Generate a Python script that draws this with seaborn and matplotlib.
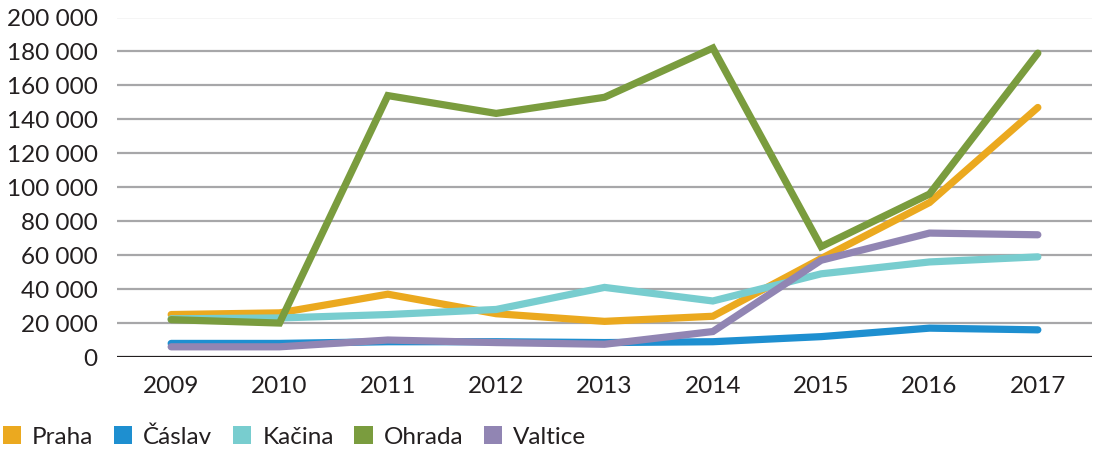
import matplotlib
matplotlib.use("Agg")
import matplotlib.pyplot as plt
import seaborn as sns
import pandas as pd
from matplotlib.patches import Patch

years = [2009, 2010, 2011, 2012, 2013, 2014, 2015, 2016, 2017]
series_names = ["Praha", "Čáslav", "Kačina", "Ohrada", "Valtice"]
praha = [25000, 26000, 37000, 25500, 21000, 24000, 58000, 91000, 147000]
caslav = [8000, 8000, 9000, 9000, 8500, 9000, 12000, 17000, 16000]
kacina = [22500, 23000, 25000, 28000, 41000, 33000, 49000, 56000, 59000]
ohrada = [22000, 20000, 154000, 143500, 153000, 182000, 65000, 96000, 179000]
valtice = [6000, 6000, 10000, 8500, 7500, 15000, 57000, 73000, 72000]
yticks = [0, 20000, 40000, 60000, 80000, 100000, 120000, 140000, 160000, 180000, 200000]
ytick_labels = ["0", "20 000", "40 000", "60 000", "80 000", "100 000", "120 000",
                "140 000", "160 000", "180 000", "200 000"]
colors = ["#EBA91F", "#1E8FD0", "#78CDCF", "#7A9C3E", "#9185B3"]

rows = []
for name, vals in zip(series_names, [praha, caslav, kacina, ohrada, valtice]):
    for y, v in zip(years, vals):
        rows.append({"Rok": y, "Hodnota": v, "Lokalita": name})
df = pd.DataFrame(rows)

sns.set_theme(style="white")
plt.rcParams["font.family"] = ["Lato", "DejaVu Sans"]
text_color = "#231F20"

fig = plt.figure(figsize=(10.97, 4.5), dpi=100)
ax = fig.add_axes([117/1097, 1-357/450, (1092-117)/1097, (357-17.5)/450])

for i, y in enumerate(yticks):
    if y == 0:
        continue
    ax.axhline(y, color="#A7A7A9", lw=1.6, zorder=0)

sns.lineplot(data=df, x="Rok", y="Hodnota", hue="Lokalita", palette=colors,
             hue_order=series_names, linewidth=5.2, ax=ax, legend=False,
             solid_capstyle="round", solid_joinstyle="miter", zorder=3)

ax.axhline(0, color=text_color, lw=1.6, zorder=2)

ax.set_xlim(2008.5, 2017.5)
ax.set_ylim(0, 200000)
ax.set_xticks(years)
ax.set_xticklabels([str(y) for y in years])
ax.set_yticks(yticks)
ax.set_yticklabels(ytick_labels)
ax.set_xlabel("")
ax.set_ylabel("")
ax.tick_params(axis="both", length=0, labelsize=17.5, colors=text_color)
ax.tick_params(axis="x", pad=14)
ax.tick_params(axis="y", pad=14)
for s in ax.spines.values():
    s.set_visible(False)
ax.grid(False)

handles = [Patch(facecolor=c, edgecolor="none", label=n) for c, n in zip(colors, series_names)]
leg = fig.legend(handles=handles, loc="center left", bbox_to_anchor=(3/1097, 1-437/450), ncol=5,
                 frameon=False, fontsize=17.5, handlelength=0.75, handleheight=0.75,
                 handletextpad=0.45, columnspacing=0.85, borderpad=0, borderaxespad=0)
for t in leg.get_texts():
    t.set_color(text_color)

fig.savefig("out.png", dpi=100)
